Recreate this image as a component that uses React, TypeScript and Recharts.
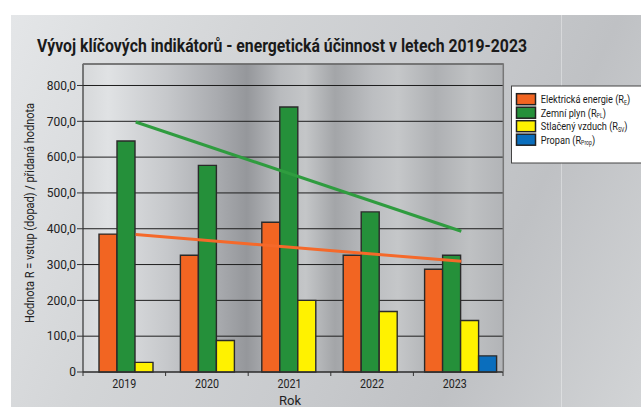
import { Bar, CartesianGrid, ComposedChart, Line, XAxis, YAxis } from 'recharts'

const years = ['2019', '2020', '2021', '2022', '2023']
const elektrina = [385, 326, 418, 326, 287]
const plyn = [645, 577, 740, 447, 326]
const vzduch = [27, 88, 200, 169, 144]
const propan = [null, null, null, null, 45]
const trendElektrina = [384, null, null, null, 309]
const trendPlyn = [698, null, null, null, 393]
const yTicks = [0, 100, 200, 300, 400, 500, 600, 700, 800]

const data = years.map((year, i) => ({
  year,
  elektrina: elektrina[i],
  plyn: plyn[i],
  vzduch: vzduch[i],
  propan: propan[i],
  trendElektrina: trendElektrina[i],
  trendPlyn: trendPlyn[i],
}))

const COLORS = {
  elektrina: '#f26522',
  plyn: '#25903a',
  vzduch: '#fff200',
  propan: '#0a6ebd',
  trendElektrina: '#f5692a',
  trendPlyn: '#2f9c3f',
  outline: '#2a2a2a',
}

const FONT = 'Roboto, "Noto Sans", sans-serif'
const X_PAD_RIGHT = 7

const legendItems = [
  { key: 'elektrina', main: 'Elektrická energie (R', sub: 'E' },
  { key: 'plyn', main: 'Zemní plyn (R', sub: 'PL' },
  { key: 'vzduch', main: 'Stlačený vzduch (R', sub: 'SV' },
  { key: 'propan', main: 'Propan (R', sub: 'Prop' },
]

function formatY(v: number) {
  return v === 0 ? '0' : v.toFixed(1).replace('.', ',')
}

function YearTick(props: any) {
  const { x, y, payload, index } = props
  const half = payload?.offset || 41.3
  const axisY = y - 6
  return (
    <g>
      <line x1={x - half} x2={x - half} y1={axisY} y2={axisY + 4} stroke="#333" />
      {index === years.length - 1 && (
        <line
          x1={x + half + X_PAD_RIGHT}
          x2={x + half + X_PAD_RIGHT}
          y1={axisY}
          y2={axisY + 4}
          stroke="#333"
        />
      )}
      <text
        x={x}
        y={y + 10}
        textAnchor="middle"
        fontSize={12.5}
        fill="#222"
        fontFamily={FONT}
        textLength={24}
        lengthAdjust="spacingAndGlyphs"
      >
        {payload.value}
      </text>
    </g>
  )
}

export default function App() {
  return (
    <div
      style={{
        position: 'absolute',
        left: 0,
        top: 0,
        width: 641,
        height: 407,
        background: '#fff',
        overflow: 'hidden',
        fontFamily: FONT,
      }}
    >
      <div
        style={{
          position: 'absolute',
          left: 11,
          top: 15,
          right: 0,
          bottom: 0,
          background:
            'linear-gradient(115deg, #e4e6e8 0%, #d3d5d7 30%, #c9cbce 55%, #bfc1c4 75%, #d2d4d6 100%)',
        }}
      />
      <div style={{ position: 'absolute', left: 561, top: 15, width: 1, bottom: 0, background: 'rgba(255,255,255,0.35)' }} />
      <div style={{ position: 'absolute', left: 0, top: 0 }}>
        <ComposedChart
          width={641}
          height={407}
          data={data}
          margin={{ top: 64, right: 138, left: 23, bottom: 5 }}
          barCategoryGap={4}
          barGap={0}
        >
          <CartesianGrid
            vertical={false}
            stroke="#1e1e1e"
            strokeWidth={1}
            fill="url(#plotBg)"
            fillOpacity={1}
          />
          <XAxis
            dataKey="year"
            height={30}
            padding={{ left: 0, right: X_PAD_RIGHT }}
            axisLine={{ stroke: '#333', strokeWidth: 1.2 }}
            tickLine={false}
            tickSize={4}
            tickMargin={2}
            tick={<YearTick />}
            interval={0}
          />
          <XAxis xAxisId="bars" dataKey="year" hide padding={{ left: 12, right: 1 }} />
          <YAxis
            width={60}
            domain={[0, 860]}
            ticks={yTicks}
            interval={0}
            tickFormatter={formatY}
            axisLine={{ stroke: '#333', strokeWidth: 1.2 }}
            tickLine={{ stroke: '#333' }}
            tickSize={6}
            tickMargin={1}
            tick={{ fontSize: 12, fill: '#222', fontFamily: FONT }}
          />
          <Bar xAxisId="bars" dataKey="elektrina" fill={COLORS.elektrina} stroke={COLORS.outline} strokeWidth={1.4} isAnimationActive={false} />
          <Bar xAxisId="bars" dataKey="plyn" fill={COLORS.plyn} stroke={COLORS.outline} strokeWidth={1.4} isAnimationActive={false} />
          <Bar xAxisId="bars" dataKey="vzduch" fill={COLORS.vzduch} stroke={COLORS.outline} strokeWidth={1.4} isAnimationActive={false} />
          <Bar xAxisId="bars" dataKey="propan" fill={COLORS.propan} stroke={COLORS.outline} strokeWidth={1.4} isAnimationActive={false} />
          <Line
            xAxisId="bars"
            dataKey="trendPlyn"
            stroke={COLORS.trendPlyn}
            strokeWidth={3}
            dot={false}
            connectNulls
            isAnimationActive={false}
          />
          <Line
            xAxisId="bars"
            dataKey="trendElektrina"
            stroke={COLORS.trendElektrina}
            strokeWidth={3}
            dot={false}
            connectNulls
            isAnimationActive={false}
          />
        </ComposedChart>
      </div>
      <svg
        width={641}
        height={407}
        style={{ position: 'absolute', left: 0, top: 0, pointerEvents: 'none' }}
        fontFamily={FONT}
      >
        <defs>
          <linearGradient id="plotBg" x1="0" y1="0" x2="1" y2="0">
            <stop offset="0" stopColor="#d6d8da" />
            <stop offset="0.06" stopColor="#e0e2e4" />
            <stop offset="0.2" stopColor="#c6c8cb" />
            <stop offset="0.32" stopColor="#a9abaf" />
            <stop offset="0.39" stopColor="#95979b" />
            <stop offset="0.47" stopColor="#b9bbbe" />
            <stop offset="0.53" stopColor="#c4c6c8" />
            <stop offset="0.6" stopColor="#a3a5a8" />
            <stop offset="0.69" stopColor="#bcbec1" />
            <stop offset="0.75" stopColor="#c5c7c9" />
            <stop offset="0.84" stopColor="#aeb0b3" />
            <stop offset="0.92" stopColor="#bfc1c3" />
            <stop offset="1" stopColor="#b2b4b7" />
          </linearGradient>
        </defs>
        <path d="M82.7 64 H503.3 V372" fill="none" stroke="#777" strokeWidth={1.5} />
        <text
          x={37}
          y={52}
          fontSize={19}
          fontWeight="bold"
          fill="#1a1a1a"
          textLength={490}
          lengthAdjust="spacingAndGlyphs"
        >
          Vývoj klíčových indikátorů - energetická účinnost v letech 2019-2023
        </text>
        <text
          transform="translate(34 213) rotate(-90)"
          textAnchor="middle"
          fontSize={12.5}
          fill="#222"
          textLength={220}
          lengthAdjust="spacingAndGlyphs"
        >
          Hodnota R = vstup (dopad) / přidaná hodnota
        </text>
        <text x={290} y={405} textAnchor="middle" fontSize={13} fill="#222">
          Rok
        </text>
        <rect x={511.5} y={86} width={140} height={77} fill="#fff" stroke="#444" strokeWidth={1} />
        {legendItems.map((item, i) => {
          const cy = 99.2 + i * 13.5
          return (
            <g key={item.key}>
              <rect
                x={516.5}
                y={cy - 5.5}
                width={19}
                height={11}
                fill={COLORS[item.key as keyof typeof COLORS]}
                stroke="#222"
                strokeWidth={1.5}
              />
              <g transform={`translate(540.7 ${cy + 3.8}) scale(0.8 1)`}>
                <text x={0} y={0} fontSize={11.5} fill="#1a1a1a">
                  {item.main}
                  <tspan fontSize={6.5} dy={1.5}>
                    {item.sub}
                  </tspan>
                  <tspan dy={-1.5}>)</tspan>
                </text>
              </g>
            </g>
          )
        })}
      </svg>
    </div>
  )
}
